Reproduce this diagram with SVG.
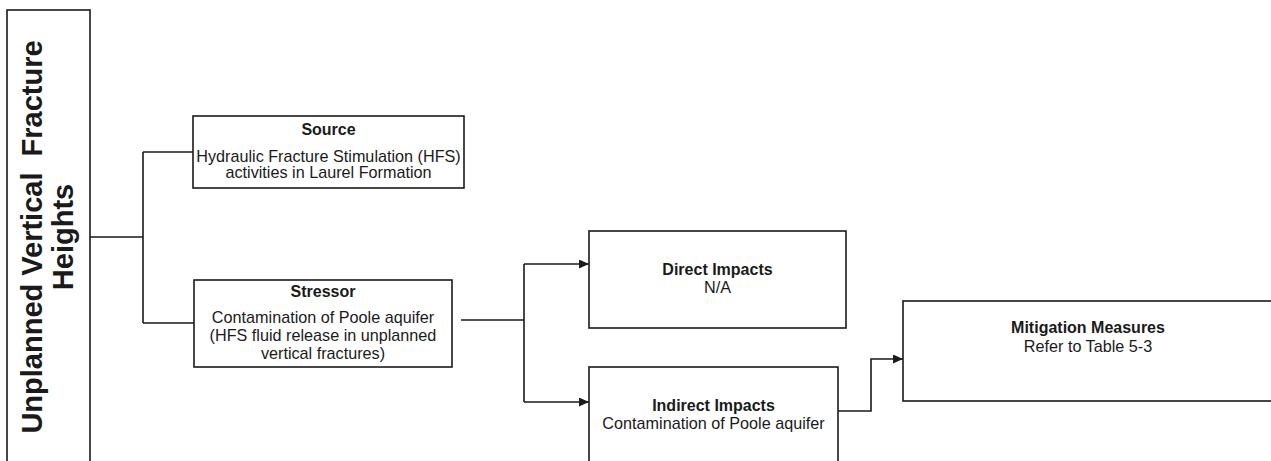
<svg xmlns="http://www.w3.org/2000/svg" width="1271" height="461" viewBox="0 0 1271 461">
<defs>
<marker id="arr" markerUnits="userSpaceOnUse" markerWidth="10" markerHeight="9" refX="10" refY="4.5" orient="auto"><path d="M0,0 L10,4.5 L0,9 z" fill="#1a1a1a"/></marker>
<style>
.box{fill:#fff;stroke:#1a1a1a;stroke-width:1.6}
.ln{fill:none;stroke:#1a1a1a;stroke-width:1.6}
text{font-family:"Liberation Sans",Arial,sans-serif;fill:#1a1a1a;text-anchor:middle}
.t{font-weight:bold;font-size:16px}
.b{font-size:16.2px}
.big{font-weight:bold;font-size:29px}
</style>
</defs>
<rect width="1271" height="461" fill="#fff"/>
<g id="connectors">
<path class="ln" d="M90,237 H143 M143,152 V323 M143,152 H193 M143,323 H194"/>
<path class="ln" d="M461,320 H524 M524,264 V402"/>
<path class="ln" d="M524,264 H589" marker-end="url(#arr)"/>
<path class="ln" d="M524,402 H589" marker-end="url(#arr)"/>
<path class="ln" d="M838,411 H871 V359 H903" marker-end="url(#arr)"/>
</g>
<g id="topic">
<rect class="box" x="7" y="10" width="83" height="470"/>
<text class="big" transform="translate(42,237) rotate(-90)">Unplanned Vertical&#160; Fracture</text>
<text class="big" transform="translate(73,237) rotate(-90)">Heights</text>
</g>
<g id="source">
<rect class="box" x="193" y="116" width="271" height="72"/>
<text class="t" x="328.5" y="135">Source</text>
<text class="b" x="328.5" y="162">Hydraulic Fracture Stimulation (HFS)</text>
<text class="b" x="328.5" y="178">activities in Laurel Formation</text>
</g>
<g id="stressor">
<rect class="box" x="194" y="280" width="258" height="87"/>
<text class="t" x="323" y="297">Stressor</text>
<text class="b" x="323" y="323">Contamination of Poole aquifer</text>
<text class="b" x="323" y="341">(HFS fluid release in unplanned</text>
<text class="b" x="323" y="359">vertical fractures)</text>
</g>
<g id="direct">
<rect class="box" x="589" y="231" width="257" height="97"/>
<text class="t" x="717.5" y="275">Direct Impacts</text>
<text class="b" x="717.5" y="293">N/A</text>
</g>
<g id="indirect">
<rect class="box" x="589" y="367" width="249" height="110"/>
<text class="t" x="713.5" y="411">Indirect Impacts</text>
<text class="b" x="713.5" y="429">Contamination of Poole aquifer</text>
</g>
<g id="mitigation">
<rect class="box" x="903" y="301" width="372" height="100"/>
<text class="t" x="1088" y="333">Mitigation Measures</text>
<text class="b" x="1088" y="352">Refer to Table 5-3</text>
</g>
</svg>
